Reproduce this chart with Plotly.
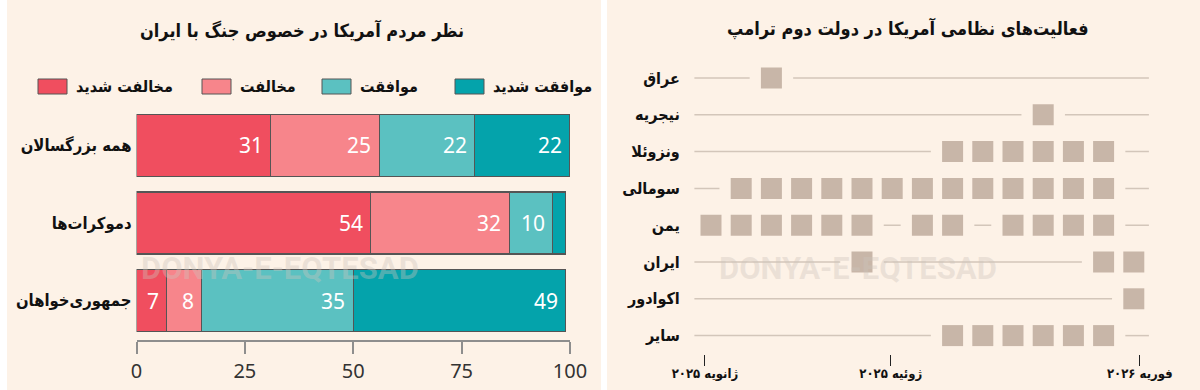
import plotly.graph_objects as go

W, H = 1200, 390

# ---------------- data: left panel ----------------
groups = ["همه بزرگسالان", "دموکرات‌ها", "جمهوری‌خواهان"]
series_names = ["مخالفت شدید", "مخالفت", "موافقت", "موافقت شدید"]
strongly_oppose = [31, 54, 7]
oppose = [25, 32, 8]
support = [22, 10, 35]
strongly_support = [22, 3, 49]
series_values = [strongly_oppose, oppose, support, strongly_support]
series_colors = ["#f04e5f", "#f7858b", "#5bc1c1", "#04a3ab"]
x_ticks = [0, 25, 50, 75, 100]

# ---------------- data: right panel ----------------
countries = ["عراق", "نیجریه", "ونزوئلا", "سومالی", "یمن", "ایران", "اکوادور", "سایر"]
n_months = 15  # Jan 2025 .. Mar 2026
iraq = [2]
nigeria = [11]
venezuela = [8, 9, 10, 11, 12, 13]
somalia = [1, 2, 3, 4, 5, 6, 7, 8, 9, 10, 11, 12, 13]
yemen = [0, 1, 2, 3, 4, 5, 7, 8, 10, 11, 12, 13]
iran = [5, 13, 14]
ecuador = [14]
other = [8, 9, 10, 11, 12, 13]
activity = [iraq, nigeria, venezuela, somalia, yemen, iran, ecuador, other]
time_tick_labels = ["ژانویه ۲۰۲۵", "ژوئیه ۲۰۲۵", "فوریه ۲۰۲۶"]
time_tick_pos = [-0.2, 5.95, 14.2]

BG = "#fdf2e7"
FA = "DejaVu Sans Condensed, DejaVu Sans"

fig = go.Figure()

# ---------- left: stacked bars ----------
rows = list(range(len(groups)))
for name, vals, col in zip(series_names, series_values, series_colors):
    fig.add_trace(go.Bar(
        x=vals, y=rows, orientation="h", name=name, width=0.8,
        marker=dict(color=col, line=dict(color="#555555", width=1.2)),
        xaxis="x", yaxis="y", showlegend=False, hoverinfo="skip"))

annotations = []
for r in rows:
    cum = 0
    for vals in series_values:
        cum += vals[r]
        if vals[r] >= 5:
            annotations.append(dict(
                x=cum, y=r, xref="x", yref="y", text=str(vals[r]),
                xanchor="right", yanchor="middle", xshift=-6, showarrow=False,
                font=dict(family="Noto Sans", size=21, color="white")))

# ---------- right: timeline ----------
lx, ly = [], []
mx, my = [], []
for r, months in enumerate(activity):
    active = set(months)
    for m in months:
        mx.append(m)
        my.append(r)
    c = 0
    while c < n_months:
        if c in active:
            c += 1
            continue
        a = c
        while c < n_months and c not in active:
            c += 1
        b = c - 1
        start = a - 0.28 if a > 0 else a - 0.55
        end = b + 0.28 if b < n_months - 1 else b + 0.5
        lx += [start, end, None]
        ly += [r, r, None]

fig.add_trace(go.Scatter(x=lx, y=ly, mode="lines", xaxis="x2", yaxis="y2",
                         line=dict(color="#d3c6ba", width=1.5),
                         showlegend=False, hoverinfo="skip"))
fig.add_trace(go.Scatter(x=mx, y=my, mode="markers", xaxis="x2", yaxis="y2",
                         marker=dict(symbol="square", size=21, color="#c8b6a8",
                                     line=dict(width=0)),
                         showlegend=False, hoverinfo="skip"))

# ---------- panel backgrounds ----------
shapes = [
    dict(type="rect", xref="paper", yref="paper", x0=7 / W, x1=601 / W, y0=0, y1=1,
         fillcolor=BG, line=dict(width=0), layer="below"),
    dict(type="rect", xref="paper", yref="paper", x0=607 / W, x1=1, y0=0, y1=1,
         fillcolor=BG, line=dict(width=0), layer="below"),
]

# ---------- custom legend ----------
legend_box_left = [38, 202, 322, 455]
for name, col, bx in zip(series_names, series_colors, legend_box_left):
    shapes.append(dict(type="rect", xref="paper", yref="paper",
                       x0=bx / W, x1=(bx + 29) / W, y0=1 - 94 / H, y1=1 - 79 / H,
                       fillcolor=col, line=dict(color="#555555", width=1)))
    annotations.append(dict(x=(bx + 36) / W, y=1 - 86.5 / H, xref="paper", yref="paper",
                            text="<b>" + name + "</b>", xanchor="left", yanchor="middle",
                            showarrow=False, font=dict(family=FA, size=16, color="#111")))

# ---------- titles ----------
annotations.append(dict(x=302 / W, y=1 - 31 / H, xref="paper", yref="paper",
                        text="<b>نظر مردم آمریکا در خصوص جنگ با ایران</b>",
                        showarrow=False, xanchor="center", yanchor="middle",
                        font=dict(family=FA, size=18, color="#111")))
annotations.append(dict(x=908 / W, y=1 - 29 / H, xref="paper", yref="paper",
                        text="<b>فعالیت‌های نظامی آمریکا در دولت دوم ترامپ</b>",
                        showarrow=False, xanchor="center", yanchor="middle",
                        font=dict(family=FA, size=18, color="#111")))

# ---------- watermark ----------
for cx in (280, 858):
    annotations.append(dict(x=cx / W, y=1 - 268 / H, xref="paper", yref="paper",
                            text="<b>DONYA-E-EQTESAD</b>", showarrow=False,
                            xanchor="center", yanchor="middle",
                            font=dict(family="Roboto", size=31,
                                      color="rgba(205,196,188,0.38)")))

fig.update_layout(
    width=W, height=H, margin=dict(l=0, r=0, t=0, b=0),
    paper_bgcolor="white", plot_bgcolor="rgba(0,0,0,0)",
    barmode="stack", bargap=0.2,
    shapes=shapes, annotations=annotations,
    xaxis=dict(domain=[136.5 / W, 570 / W], range=[0, 100], anchor="y", automargin=False,
               tickvals=x_ticks, ticks="outside", ticklen=12, tickwidth=2,
               tickcolor="#8e8e8e", showline=True, linecolor="#8e8e8e", linewidth=2,
               showgrid=False, zeroline=False,
               tickfont=dict(family="Noto Sans", size=20, color="#333")),
    yaxis=dict(domain=[1 - 339.5 / H, 1 - 106.5 / H], range=[2.5, -0.5], anchor="x",
               automargin=False,
               tickvals=rows, ticktext=["<b>" + g + "</b>" for g in groups],
               ticks="", showgrid=False, zeroline=False, showline=False,
               ticklabelstandoff=4,
               tickfont=dict(family=FA, size=16.5, color="#111")),
    xaxis2=dict(domain=[680.8 / W, 1164 / W], range=[-1, 15], anchor="y2", automargin=False,
                tickvals=time_tick_pos, ticktext=["<b>" + t + "</b>" for t in time_tick_labels],
                ticks="outside", ticklen=11, tickwidth=1.2, tickcolor="#222",
                ticklabelstandoff=-4,
                showline=False, showgrid=False, zeroline=False,
                tickfont=dict(family=FA, size=13, color="#111")),
    yaxis2=dict(domain=[1 - 354 / H, 1 - 59.6 / H], range=[7.5, -0.5], anchor="x2",
                automargin=False,
                tickvals=list(range(len(countries))),
                ticktext=["<b>" + c + "</b>" for c in countries],
                ticks="", showgrid=False, zeroline=False, showline=False,
                tickfont=dict(family=FA, size=16, color="#111")),
)

fig.write_html("out.html", config={"displayModeBar": False},
               post_script="document.body.style.margin='0';document.body.style.padding='0';")
